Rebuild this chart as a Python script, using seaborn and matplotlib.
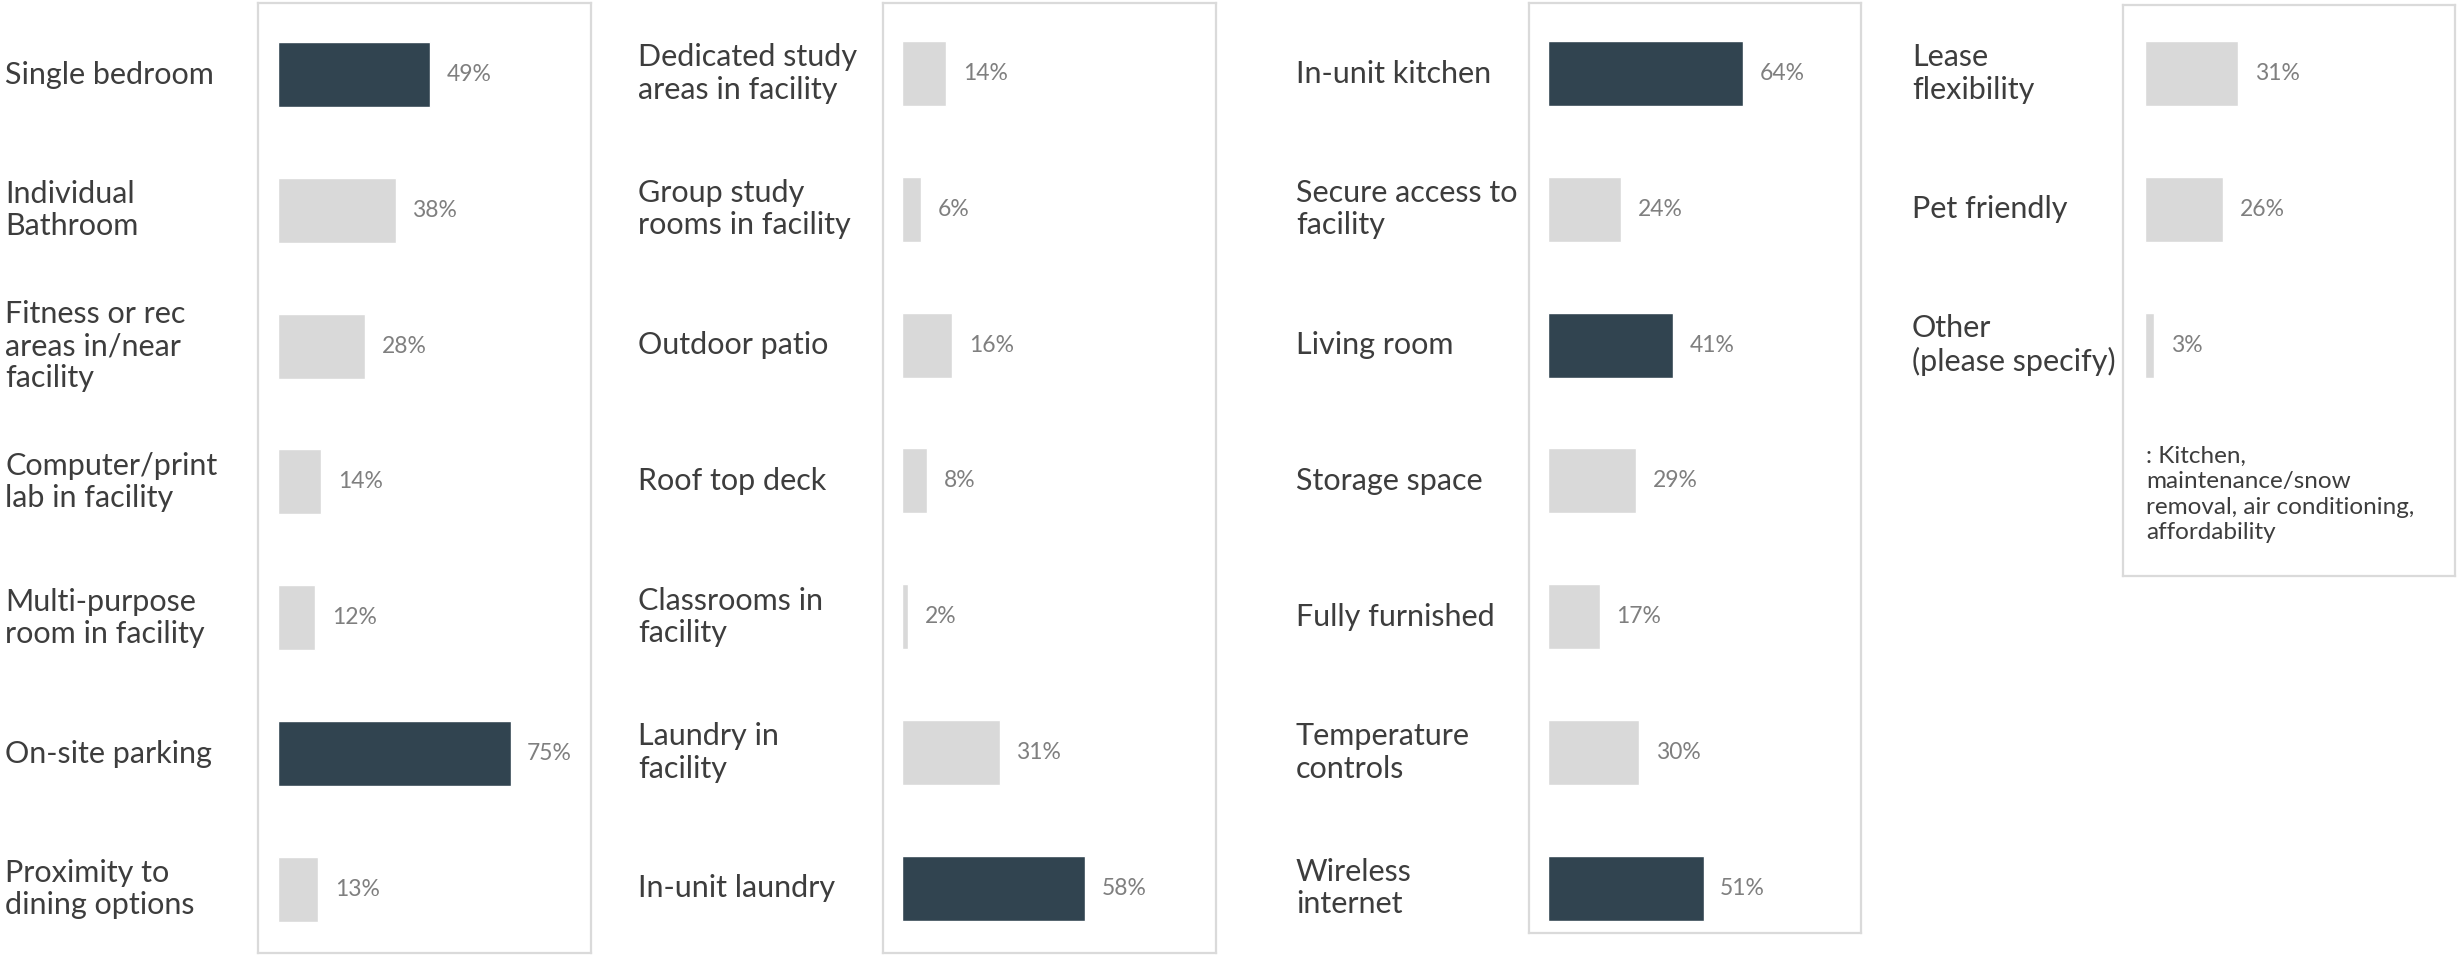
import matplotlib
matplotlib.use("Agg")
import matplotlib.pyplot as plt
import seaborn as sns
import pandas as pd

# ---- data -----------------------------------------------------------------
amenities_a = ["Single bedroom", "Individual\nBathroom", "Fitness or rec\nareas in/near\nfacility",
               "Computer/print\nlab in facility", "Multi-purpose\nroom in facility",
               "On-site parking", "Proximity to\ndining options"]
share_a = [49, 38, 28, 14, 12, 75, 13]

amenities_b = ["Dedicated study\nareas in facility", "Group study\nrooms in facility", "Outdoor patio",
               "Roof top deck", "Classrooms in\nfacility", "Laundry in\nfacility", "In-unit laundry"]
share_b = [14, 6, 16, 8, 2, 31, 58]

amenities_c = ["In-unit kitchen", "Secure access to\nfacility", "Living room", "Storage space",
               "Fully furnished", "Temperature\ncontrols", "Wireless\ninternet"]
share_c = [64, 24, 41, 29, 17, 30, 51]

amenities_d = ["Lease\nflexibility", "Pet friendly", "Other\n(please specify)"]
share_d = [31, 26, 3]

other_note = ": Kitchen,\nmaintenance/snow\nremoval, air conditioning,\naffordability"

# ---- style ----------------------------------------------------------------
DARK = "#314450"
LIGHT = "#d9d9d9"
LABEL_C = "#3d3d3d"
VALUE_C = "#7f7f7f"
BORDER_C = "#dadada"
HIGHLIGHT_AT = 40  # shares at or above this are drawn dark

sns.set_theme(style="white")
plt.rcParams["font.family"] = ["Lato", "DejaVu Sans"]

W, H = 2458, 956
fig = plt.figure(figsize=(W / 100, H / 100), dpi=100)
fig.patch.set_facecolor("white")

ROW = 135.8  # pixel distance between rows


def panel(cats, vals, box, first_row_px, x_off_px, px_per_pct, label_x_px, val_pad=12):
    x0, y0, x1, y1 = box
    ax = fig.add_axes([x0 / W, 1 - y1 / H, (x1 - x0) / W, (y1 - y0) / H])
    df = pd.DataFrame({"item": cats, "share": vals})
    colors = {c: (DARK if v >= HIGHLIGHT_AT else LIGHT) for c, v in zip(cats, vals)}
    sns.barplot(data=df, y="item", x="share", hue="item", palette=colors,
                order=cats, hue_order=cats, width=0.48, legend=False,
                orient="h", ax=ax, saturation=1)
    # limits in data units so the scale matches the frame
    top = -(first_row_px - y0) / ROW
    bottom = top + (y1 - y0) / ROW
    ax.set_ylim(bottom, top)
    left = -x_off_px / px_per_pct
    ax.set_xlim(left, left + (x1 - x0) / px_per_pct)

    for cont in ax.containers:
        ax.bar_label(cont, fmt="{:.0f}%", padding=val_pad, color=VALUE_C,
                     fontsize=16.5)

    ax.set_xlabel("")
    ax.set_ylabel("")
    ax.set_xticks([])
    ax.set_yticks(range(len(cats)))
    pad_pt = (x0 - label_x_px) * 72 / 100
    ax.tick_params(axis="y", length=0, pad=pad_pt)
    ax.set_yticklabels(cats, ha="left", va="center", color=LABEL_C,
                       fontsize=22, linespacing=1.18)
    for s in ax.spines.values():
        s.set_visible(True)
        s.set_color(BORDER_C)
        s.set_linewidth(1.6)
    ax.set_facecolor("white")
    return ax


panel(amenities_a, share_a, (258, 3, 591, 953), 74.5, 20, 3.1, 5)
panel(amenities_b, share_b, (883, 3, 1216, 953), 73.5, 19, 3.15, 638)
panel(amenities_c, share_c, (1529, 3, 1861, 933), 73.5, 19, 3.05, 1296)
ax_d = panel(amenities_d, share_d, (2123, 5, 2455, 576), 73.5, 22, 3.0, 1912)

ax_d.text(0.5, 3.1, other_note, ha="left", va="center", color=LABEL_C,
          fontsize=17.5, linespacing=1.25)

fig.savefig("out.png", dpi=100, facecolor="white")
